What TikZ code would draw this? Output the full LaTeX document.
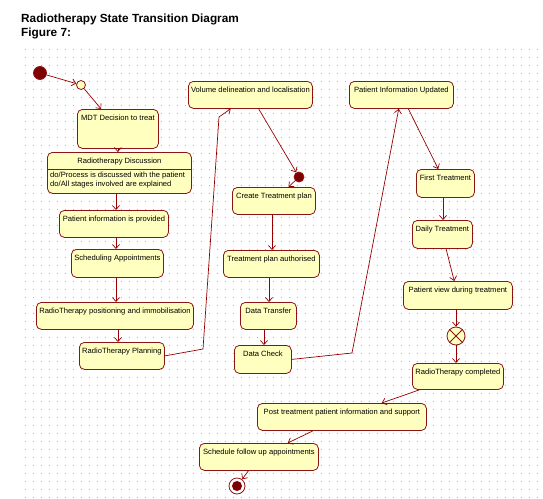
\documentclass[tikz,border=0pt]{standalone}
\usepackage{fontspec}
\setmainfont{Liberation Sans}
\usepackage{tikz}
\usetikzlibrary{arrows.meta, positioning}
\definecolor{stateline}{RGB}{140,20,20}
\definecolor{statefill}{RGB}{255,255,192}
\definecolor{arrowc}{RGB}{150,0,0}
\definecolor{dotred}{RGB}{128,0,0}
\definecolor{gridc}{RGB}{175,175,175}
\tikzstyle{state} = [rectangle, rounded corners=5pt, draw=stateline, fill=statefill, line width=0.8pt, anchor=north west, inner xsep=1pt, inner ysep=0pt, text height=11pt, text depth=16pt, font=\fontsize{7.6}{9.5}\selectfont]
\tikzstyle{pseudo} = [circle, inner sep=0pt, draw=stateline, line width=0.8pt]
\tikzstyle{arrow} = [draw=arrowc, line width=0.7pt, ->, >={Straight Barb[length=4pt,width=7pt]}]

\begin{document}
\begin{tikzpicture}[x=1pt, y=-1pt]
\useasboundingbox (0,0) rectangle (543,498);
% dotted grid
\foreach \y in {49,57,...,497}
  \draw[gridc, line width=0.9pt, dash pattern=on 0.9pt off 7.1pt] (25,\y) -- (540,\y);

\node (title) [anchor=north west, align=left, inner sep=0pt, font=\bfseries\fontsize{11.8}{14}\selectfont] at (21,14) {Radiotherapy State Transition Diagram\\Figure 7:};

% left column
\node (start) [pseudo, fill=dotred, minimum size=13pt] at (40,73) {};
\node (choice) [pseudo, fill=statefill, minimum size=9pt] at (81,85) {};
\node (mdt) [state, minimum width=81pt, text depth=28pt] at (77,109) {MDT Decision to treat};
\node (disc) [state, minimum width=144pt, text depth=30pt] at (47,152) {Radiotherapy Discussion};
\draw[stateline, line width=0.8pt] (disc.west |- 0,169) -- (disc.east |- 0,169);
\node (discbody) [anchor=north west, align=left, inner sep=1pt, font=\fontsize{7.6}{9.5}\selectfont] at (49,170.5) {do/Process is discussed with the patient\\do/All stages involved are explained};
\node (info) [state, minimum width=109pt] at (59,210) {Patient information is provided};
\node (sched) [state, minimum width=92pt, text depth=17pt] at (71,249) {Scheduling Appointments};
\node (posn) [state, minimum width=157pt] at (36,302) {RadioTherapy positioning and immobilisation};
\node (plan) [state, minimum width=85pt] at (79,342) {RadioTherapy Planning};

% middle column
\node (vol) [state, minimum width=124pt] at (188,81) {Volume delineation and localisation};
\node (join) [pseudo, fill=dotred, minimum size=10pt] at (299,177) {};
\node (create) [state, minimum width=83pt] at (232,187) {Create Treatment plan};
\node (auth) [state, minimum width=96pt] at (223,250) {Treatment plan authorised};
\node (transfer) [state, minimum width=56pt] at (240,302) {Data Transfer};
\node (check) [state, minimum width=57pt, text depth=17pt] at (234,345) {Data Check};

% right column
\node (updated) [state, minimum width=104pt] at (349,81) {Patient Information Updated};
\node (first) [state, minimum width=58pt, text depth=17pt] at (416,169) {First Treatment};
\node (daily) [state, minimum width=60pt, text depth=17pt] at (412,220) {Daily Treatment};
\node (view) [state, minimum width=109pt, text depth=17pt] at (403,281) {Patient view during treatment};
\node (stop) [pseudo, fill=statefill, minimum size=18pt] at (456,336) {};
\draw[stateline, line width=0.8pt] (stop.north west) -- (stop.south east) (stop.north east) -- (stop.south west);
\node (completed) [state, minimum width=91pt, text depth=15pt] at (412,363) {RadioTherapy completed};
\node (post) [state, minimum width=169pt] at (257,403) {Post treatment patient information and support};
\node (followup) [state, minimum width=119pt] at (199,443) {Schedule follow up appointments};
\node (end) [pseudo, fill=white, minimum size=16pt] at (237,486) {};
\fill[dotred] (end) circle (5);

\coordinate (bend1) at (203,349);
\coordinate (bend2) at (219,117);
\coordinate (bend3) at (352,353);

\draw [arrow] (start) -- (choice);
\draw [arrow] (choice) -- (mdt);
\draw [arrow] (mdt.south) -- (mdt.south |- disc.north);
\draw [arrow] (disc.south -| 116,0) -- (info.north -| 116,0);
\draw [arrow] (info.south -| 116,0) -- (sched.north -| 116,0);
\draw [arrow] (sched.south -| 116,0) -- (posn.north -| 116,0);
\draw [arrow] (posn.south -| 118,0) -- (plan.north -| 118,0);
\draw [arrow] (plan.east) -- (bend1) -- (bend2) -- (vol);
\draw [arrow] (vol) -- (join);
\draw [arrow] (join) -- (create);
\draw [arrow] (create.south -| 272,0) -- (auth.north -| 272,0);
\draw [arrow] (auth.south -| 269,0) -- (transfer.north -| 269,0);
\draw [arrow] (transfer.south -| 264,0) -- (check.north -| 264,0);
\draw [arrow] (check.east) -- (bend3) -- (updated);
\draw [arrow] (updated) -- (first);
\draw [arrow] (first.south -| 443,0) -- (daily.north -| 443,0);
\draw [arrow] (daily) -- (view);
\draw [arrow] (view.south -| stop) -- (stop);
\draw [arrow] (stop) -- (completed.north -| stop);
\draw [arrow] (completed) -- (post);
\draw [arrow] (post) -- (followup);
\draw [arrow] (followup) -- (end);
\end{tikzpicture}
\end{document}
